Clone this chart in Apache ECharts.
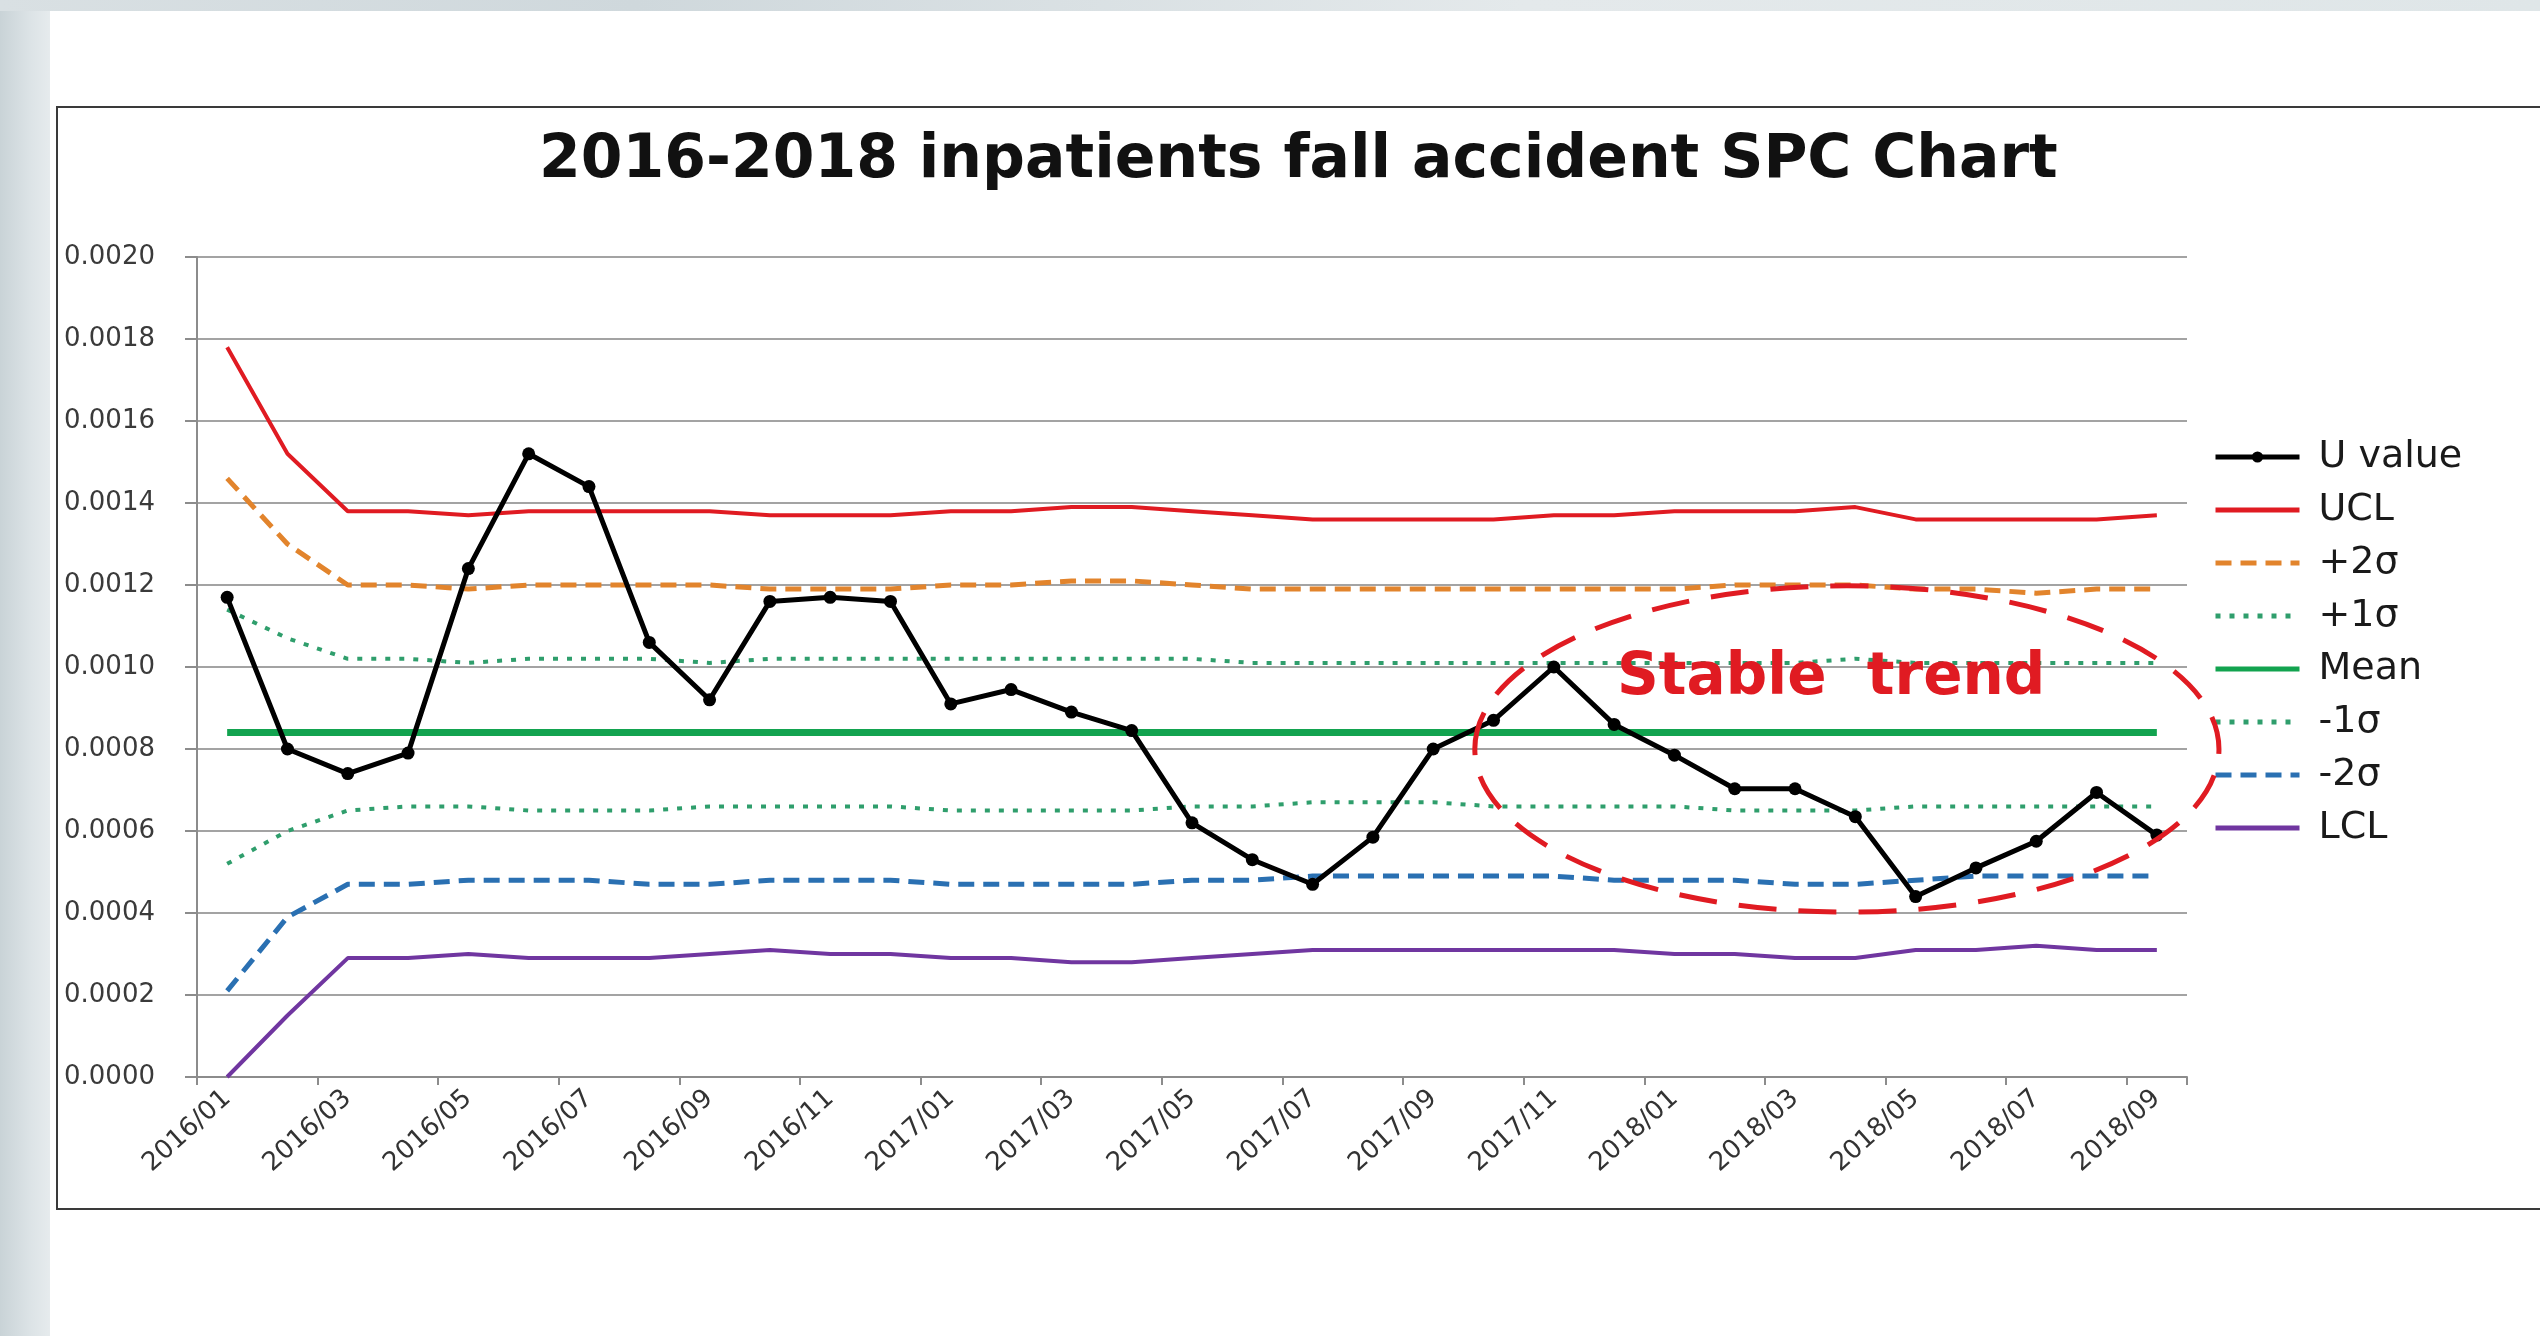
<!DOCTYPE html>
<html>
<head>
<meta charset="utf-8">
<title>2016-2018 inpatients fall accident SPC Chart</title>
<script src="https://cdn.jsdelivr.net/npm/echarts@6/dist/echarts.min.js"></script>
<style>
  html, body { margin: 0; padding: 0; background: #fff; }
  .page { position: relative; width: 2540px; height: 1336px; overflow: hidden; background: #fff; }
  .side-strip { position: absolute; left: 0; top: 0; width: 50px; height: 1336px;
    background: linear-gradient(90deg, #c9d3d7 0%, #dce3e6 60%, #e6ebed 100%); }
  .top-strip { position: absolute; left: 0; top: 0; width: 2540px; height: 11px;
    background: linear-gradient(90deg, #d9e0e3 0%, #cfd8dc 25%, #e4e9eb 60%, #dfe6e8 100%); }
  .chart-box { position: absolute; left: 56px; top: 106px; width: 2490px; height: 1100px;
    border: 2px solid #3a3a3a; background: #fff; }
  #chart { position: absolute; left: 0; top: 0; width: 2540px; height: 1336px; }
</style>
</head>
<body>
<div class="page">
  <div class="side-strip"></div>
  <div class="top-strip"></div>
  <div class="chart-box"></div>
  <div id="chart"></div>
</div>

<script>
// 月份
const months = [
  '2016/01', '2016/02', '2016/03', '2016/04', '2016/05', '2016/06', '2016/07', '2016/08', '2016/09', '2016/10', '2016/11', '2016/12',
  '2017/01', '2017/02', '2017/03', '2017/04', '2017/05', '2017/06', '2017/07', '2017/08', '2017/09', '2017/10', '2017/11', '2017/12',
  '2018/01', '2018/02', '2018/03', '2018/04', '2018/05', '2018/06', '2018/07', '2018/08', '2018/09'
]

// U值
const uValue = [0.00117, 0.00080, 0.00074, 0.00079, 0.00124, 0.00152, 0.00144, 0.00106, 0.00092, 0.00116, 0.00117, 0.00116,
  0.00091, 0.000945, 0.00089, 0.000845, 0.00062, 0.00053, 0.00047, 0.000585, 0.00080, 0.00087, 0.00100, 0.00086,
  0.000785, 0.000703, 0.000703, 0.000635, 0.00044, 0.00051, 0.000575, 0.000694, 0.00059]

// 控制线
const ucl = [0.00178, 0.00152, 0.00138, 0.00138, 0.00137, 0.00138, 0.00138, 0.00138, 0.00138, 0.00137, 0.00137, 0.00137,
  0.00138, 0.00138, 0.00139, 0.00139, 0.00138, 0.00137, 0.00136, 0.00136, 0.00136, 0.00136, 0.00137, 0.00137,
  0.00138, 0.00138, 0.00138, 0.00139, 0.00136, 0.00136, 0.00136, 0.00136, 0.00137]
const plus2 = [0.00146, 0.00130, 0.00120, 0.00120, 0.00119, 0.00120, 0.00120, 0.00120, 0.00120, 0.00119, 0.00119, 0.00119,
  0.00120, 0.00120, 0.00121, 0.00121, 0.00120, 0.00119, 0.00119, 0.00119, 0.00119, 0.00119, 0.00119, 0.00119,
  0.00119, 0.00120, 0.00120, 0.00120, 0.00119, 0.00119, 0.00118, 0.00119, 0.00119]
const plus1 = [0.00114, 0.00107, 0.00102, 0.00102, 0.00101, 0.00102, 0.00102, 0.00102, 0.00101, 0.00102, 0.00102, 0.00102,
  0.00102, 0.00102, 0.00102, 0.00102, 0.00102, 0.00101, 0.00101, 0.00101, 0.00101, 0.00101, 0.00101, 0.00101,
  0.00101, 0.00101, 0.00101, 0.00102, 0.00101, 0.00101, 0.00101, 0.00101, 0.00101]
const mean = [0.00084, 0.00084, 0.00084, 0.00084, 0.00084, 0.00084, 0.00084, 0.00084, 0.00084, 0.00084, 0.00084, 0.00084,
  0.00084, 0.00084, 0.00084, 0.00084, 0.00084, 0.00084, 0.00084, 0.00084, 0.00084, 0.00084, 0.00084, 0.00084,
  0.00084, 0.00084, 0.00084, 0.00084, 0.00084, 0.00084, 0.00084, 0.00084, 0.00084]
const minus1 = [0.00052, 0.00060, 0.00065, 0.00066, 0.00066, 0.00065, 0.00065, 0.00065, 0.00066, 0.00066, 0.00066, 0.00066,
  0.00065, 0.00065, 0.00065, 0.00065, 0.00066, 0.00066, 0.00067, 0.00067, 0.00067, 0.00066, 0.00066, 0.00066,
  0.00066, 0.00065, 0.00065, 0.00065, 0.00066, 0.00066, 0.00066, 0.00066, 0.00066]
const minus2 = [0.00021, 0.00039, 0.00047, 0.00047, 0.00048, 0.00048, 0.00048, 0.00047, 0.00047, 0.00048, 0.00048, 0.00048,
  0.00047, 0.00047, 0.00047, 0.00047, 0.00048, 0.00048, 0.00049, 0.00049, 0.00049, 0.00049, 0.00049, 0.00048,
  0.00048, 0.00048, 0.00047, 0.00047, 0.00048, 0.00049, 0.00049, 0.00049, 0.00049]
const lcl = [0.0000, 0.00015, 0.00029, 0.00029, 0.00030, 0.00029, 0.00029, 0.00029, 0.00030, 0.00031, 0.00030, 0.00030,
  0.00029, 0.00029, 0.00028, 0.00028, 0.00029, 0.00030, 0.00031, 0.00031, 0.00031, 0.00031, 0.00031, 0.00031,
  0.00030, 0.00030, 0.00029, 0.00029, 0.00031, 0.00031, 0.00032, 0.00031, 0.00031]

// "Stable trend" 标注 (类目序号, 数值)
const trendCenter = [26.86, 0.00080]
const trendRadius = [6.17, 0.000398]
const trendLabelAt = [26.6, 0.00097]

const FONT = 'DejaVu Sans'
const chart = echarts.init(document.getElementById('chart'))

// 控制线没有标记点, 图例里也不显示圆点
const limitLine = (name, data, color, width, type) => ({
  name,
  type: 'line',
  data,
  symbol: 'none',
  z: 2,
  lineStyle: { color, width, type, cap: 'butt' },
  itemStyle: { color, opacity: 0 }
})

const option = {
  animation: false,
  backgroundColor: 'transparent',
  title: {
    text: '2016-2018 inpatients fall accident SPC Chart',
    left: 539,
    top: 131,
    padding: 0,
    textStyle: { fontFamily: FONT, fontSize: 60, lineHeight: 60, fontWeight: 'bold', color: '#111' }
  },
  legend: {
    orient: 'vertical',
    left: 2208,
    top: 433,
    itemWidth: 84,
    itemHeight: 14,
    itemGap: 15,
    lineStyle: { width: 5 },
    textStyle: { fontFamily: FONT, fontSize: 38, lineHeight: 38, color: '#1a1a1a', padding: [0, 0, 0, 14] },
    data: ['U value', 'UCL', '+2σ', '+1σ', 'Mean', '-1σ', '-2σ', 'LCL']
  },
  grid: { left: 197, top: 257, width: 1990, height: 820 },
  xAxis: {
    type: 'category',
    data: months,
    boundaryGap: true,
    axisLine: { lineStyle: { color: '#8c8c8c', width: 2 } },
    axisTick: { show: true, interval: 1, length: 8, lineStyle: { color: '#8c8c8c', width: 2 } },
    axisLabel: { interval: 1, rotate: 42, margin: 18, fontFamily: FONT, fontSize: 26, color: '#333' }
  },
  yAxis: {
    type: 'value',
    min: 0,
    max: 0.002,
    interval: 0.0002,
    axisLine: { show: true, lineStyle: { color: '#8c8c8c', width: 2 } },
    axisTick: { show: true, length: 12, lineStyle: { color: '#8c8c8c', width: 2 } },
    axisLabel: { margin: 42, fontFamily: FONT, fontSize: 26, color: '#3a3a3a', formatter: v => v.toFixed(4) },
    splitLine: { lineStyle: { color: '#a3a3a3', width: 2 } }
  },
  series: [
    {
      name: 'U value',
      type: 'line',
      data: uValue,
      z: 5,
      symbol: 'circle',
      symbolSize: 13,
      lineStyle: { color: '#000', width: 5 },
      itemStyle: { color: '#000' }
    },
    limitLine('UCL', ucl, '#e01b22', 4, 'solid'),
    limitLine('+2σ', plus2, '#e2842c', 5, [16, 9]),
    limitLine('+1σ', plus1, '#2f9e6c', 4, [5, 9]),
    limitLine('Mean', mean, '#12a34f', 7, 'solid'),
    limitLine('-1σ', minus1, '#2f9e6c', 4, [5, 9]),
    limitLine('-2σ', minus2, '#2a70b2', 5, [16, 9]),
    limitLine('LCL', lcl, '#7036a0', 4, 'solid')
  ]
}

chart.setOption(option)

// 类目序号可为小数: 在相邻两个类目之间插值
const toPixel = (idx, val) => {
  const i0 = Math.floor(idx)
  const a = chart.convertToPixel({ gridIndex: 0 }, [i0, val])
  const b = chart.convertToPixel({ gridIndex: 0 }, [i0 + 1, val])
  const t = idx - i0
  return [a[0] + (b[0] - a[0]) * t, a[1]]
}

const c = toPixel(trendCenter[0], trendCenter[1])
const edge = toPixel(trendCenter[0] + trendRadius[0], trendCenter[1] + trendRadius[1])
const lab = toPixel(trendLabelAt[0], trendLabelAt[1])

chart.setOption({
  graphic: [
    {
      type: 'ellipse',
      z: 100,
      shape: { cx: c[0], cy: c[1], rx: edge[0] - c[0], ry: c[1] - edge[1] },
      style: { fill: null, stroke: '#e01b22', lineWidth: 5, lineDash: [38, 22] }
    },
    {
      type: 'text',
      z: 100,
      x: lab[0],
      y: lab[1],
      style: {
        text: 'Stable  trend',
        fontFamily: FONT,
        fontSize: 58,
        fontWeight: 'bold',
        fill: '#e01b22',
        align: 'center',
        verticalAlign: 'middle'
      }
    }
  ]
})

window.addEventListener('resize', () => chart.resize())
</script>
</body>
</html>
